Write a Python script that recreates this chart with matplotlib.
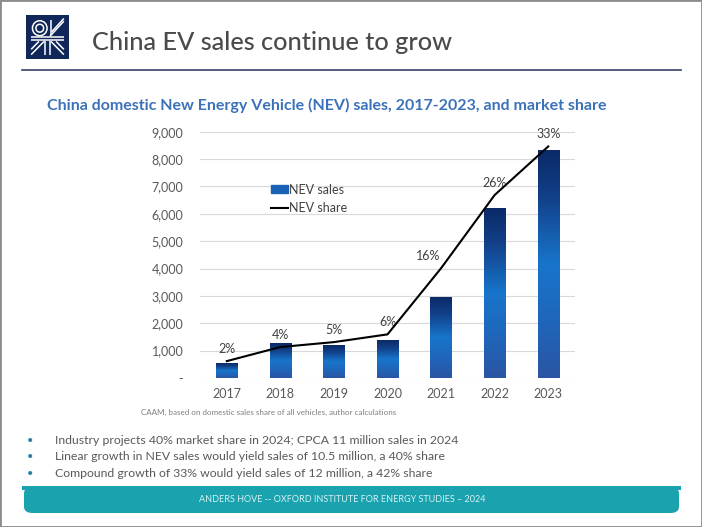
import numpy as np
import matplotlib.pyplot as plt
from matplotlib.colors import LinearSegmentedColormap
from matplotlib.patches import Rectangle, FancyBboxPatch, Circle
from matplotlib.lines import Line2D

plt.rcParams['font.family'] = ['Lato', 'DejaVu Sans']

# data
years = ["2017", "2018", "2019", "2020", "2021", "2022", "2023"]
nev_sales = [530, 1250, 1200, 1370, 2950, 6200, 8300]      # thousand vehicles
nev_share = [2.4, 4.4, 5.1, 6.2, 15.6, 26.0, 32.9]         # percent
yticks = [0, 1000, 2000, 3000, 4000, 5000, 6000, 7000, 8000, 9000]
ytick_labels = ["-", "1,000", "2,000", "3,000", "4,000", "5,000",
                "6,000", "7,000", "8,000", "9,000"]
bullets = [
    "Industry projects 40% market share in 2024; CPCA 11 million sales in 2024",
    "Linear growth in NEV sales would yield sales of 10.5 million, a 40% share",
    "Compound growth of 33% would yield sales of 12 million, a 42% share",
]

W, H = 702, 527
fig = plt.figure(figsize=(W / 100, H / 100), dpi=100)


def fx(px):
    return px / W


def fy(py):
    return 1 - py / H


# slide frame
fig.patches.append(Rectangle((0, 0), 1, 1, transform=fig.transFigure,
                             fill=False, edgecolor="#8c8c8c", lw=2))

# logo
lax = fig.add_axes([fx(26), fy(59), fx(69) - fx(26), fy(15) - fy(59)])
lax.set_facecolor("#10275a")
lax.set_xlim(0, 1)
lax.set_ylim(0, 1)
lax.set_xticks([])
lax.set_yticks([])
for s in lax.spines.values():
    s.set_visible(False)
lax.add_patch(Circle((0.32, 0.7), 0.17, fill=False, ec="white", lw=1.1))
lax.add_patch(Circle((0.32, 0.7), 0.09, fill=False, ec="white", lw=1.1))
wl = dict(color="white", lw=1.1, solid_capstyle="butt")
lax.plot([0.12, 0.88], [0.49, 0.49], **wl)
lax.plot([0.12, 0.88], [0.43, 0.43], **wl)
lax.plot([0.56, 0.88], [0.52, 0.86], **wl)
lax.plot([0.6, 0.88], [0.62, 0.92], **wl)
lax.plot([0.58, 0.58], [0.55, 0.88], **wl)
lax.plot([0.45, 0.45], [0.1, 0.4], **wl)
lax.plot([0.55, 0.55], [0.1, 0.4], **wl)
lax.plot([0.42, 0.12], [0.4, 0.1], **wl)
lax.plot([0.58, 0.88], [0.4, 0.1], **wl)
lax.plot([0.3, 0.12], [0.4, 0.22], **wl)
lax.plot([0.7, 0.88], [0.4, 0.22], **wl)

# headings
fig.text(fx(92), fy(43), "China EV sales continue to grow", fontsize=18.2,
         color="#4a4a4a", va="center", ha="left", fontweight="medium")
fig.add_artist(Line2D([fx(22), fx(681)], [fy(70), fy(70)], color="#3a4063",
                      lw=1.2, transform=fig.transFigure))
fig.text(fx(47), fy(105), "China domestic New Energy Vehicle (NEV) sales, "
         "2017-2023, and market share", fontsize=11.55, fontweight="bold",
         color="#3b72b9", va="center", ha="left")

# chart
ax = fig.add_axes([fx(200), fy(378), fx(575) - fx(200), fy(131.7) - fy(378)])
x = np.arange(len(years))
bars = ax.bar(x, nev_sales, width=0.4, color="#1a6cc0", zorder=2)

grad = LinearSegmentedColormap.from_list(
    "nev", [(0, "#2b55a3"), (0.25, "#1f66bb"), (0.5, "#1875cb"),
            (0.8, "#123f88"), (1, "#0b2a66")])
g = np.linspace(0, 1, 256).reshape(-1, 1)
for b in bars:
    ax.imshow(g, cmap=grad, origin="lower", aspect="auto", zorder=3,
              extent=[b.get_x(), b.get_x() + b.get_width(), 0, b.get_height()])

ax.set_xlim(-0.5, 6.5)
ax.set_ylim(0, 9000)
ax.set_yticks(yticks)
ax.set_yticklabels(ytick_labels)
ax.set_xticks(x)
ax.set_xticklabels(years)
ax.tick_params(axis="both", length=0, labelsize=9, colors="#595959")
ax.tick_params(axis="y", pad=12)
ax.tick_params(axis="x", pad=7)
ax.grid(axis="y", color="#d9d9d9", lw=0.8, zorder=0)
ax.set_axisbelow(True)
for s in ax.spines.values():
    s.set_visible(False)
ax.patch.set_alpha(0)

ax2 = ax.twinx()
ax2.set_ylim(0, 35)
ax2.plot(x, nev_share, color="black", lw=1.5, zorder=5)
ax2.set_yticks([])
for s in ax2.spines.values():
    s.set_visible(False)

for i, v in enumerate(nev_share):
    dx = -13 if i == 4 else 0
    kw = {}
    if i == 4:
        kw["arrowprops"] = dict(arrowstyle="-", color="#a6a6a6", lw=0.6,
                                shrinkA=3, shrinkB=1)
    ax2.annotate("{:.0f}%".format(v), (x[i], v), xytext=(dx, 12.5),
                 textcoords="offset pixels", ha="center", va="center",
                 fontsize=9, color="#404040", **kw)

handles = [Rectangle((0, 0), 1, 1, color="#1a62b5"),
           Line2D([], [], color="black", lw=1.5)]
ax2.legend(handles, ["NEV sales", "NEV share"], loc="upper left",
           bbox_to_anchor=(0.16, 0.835), frameon=False, fontsize=9,
           handlelength=1.3, handleheight=0.6, handletextpad=0.1,
           labelspacing=0.55, labelcolor="#404040")

# source and bullets
fig.text(fx(141), fy(412), "CAAM, based on domestic sales share of all "
         "vehicles, author calculations", fontsize=5.8, color="#7f7f7f",
         va="center", ha="left")
for i, t in enumerate(bullets):
    yy = 440.7 + i * 16.3
    fig.text(fx(30), fy(yy), "\u2022", fontsize=8, color="#2a7fa8",
             va="center", ha="center")
    fig.text(fx(54.5), fy(yy), t, fontsize=8.85, color="#595959",
             va="center", ha="left")

# footer
fig.patches.append(FancyBboxPatch((fx(24), fy(513)), fx(679) - fx(24),
                                  fy(487) - fy(513),
                                  boxstyle="round,pad=0,rounding_size=0.012",
                                  transform=fig.transFigure,
                                  fc="#1aa3ae", ec="none"))
fig.patches.append(Rectangle((fx(22), fy(490)), fx(681) - fx(22),
                             fy(486) - fy(490), transform=fig.transFigure,
                             fc="#1aa3ae", ec="none"))
fig.text(fx(342.5), fy(499.5), "ANDERS HOVE -- OXFORD INSTITUTE FOR ENERGY "
         "STUDIES \u2013 2024", fontsize=6.5, color="#d4f1f4",
         va="center", ha="center")

fig.savefig("out.png", dpi=100)
